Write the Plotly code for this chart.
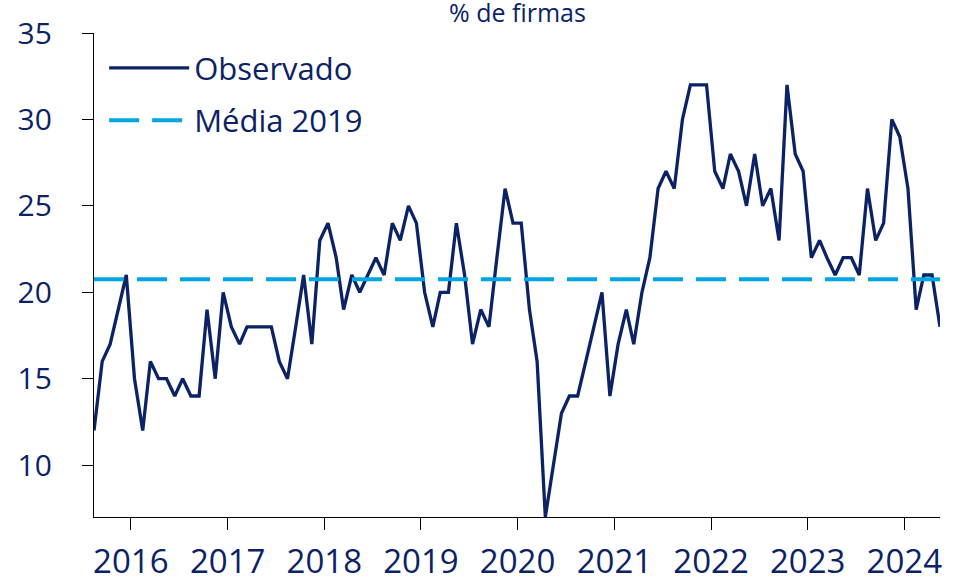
import pandas as pd
import plotly.graph_objects as go

# Monthly observations, Aug 2015 .. May 2024 (% de firmas)
start_month = "2015-08-01"
obs_2015 = [12, 16, 17, 19, 21]  # Aug-Dec
obs_2016 = [15, 12, 16, 15, 15, 14, 15, 14, 14, 19, 15, 20]
obs_2017 = [18, 17, 18, 18, 18, 18, 16, 15, 18, 21, 17, 23]
obs_2018 = [24, 22, 19, 21, 20, 21, 22, 21, 24, 23, 25, 24]
obs_2019 = [20, 18, 20, 20, 24, 21, 17, 19, 18, 22, 26, 24]
obs_2020 = [24, 19, 16, 7, 10, 13, 14, 14, 16, 18, 20, 14]
obs_2021 = [17, 19, 17, 20, 22, 26, 27, 26, 30, 32, 32, 32]
obs_2022 = [27, 26, 28, 27, 25, 28, 25, 26, 23, 32, 28, 27]
obs_2023 = [22, 23, 22, 21, 22, 22, 21, 26, 23, 24, 30, 29]
obs_2024 = [26, 19, 21, 21, 18]  # Jan-May
media_2019 = 20.75

tick_years = [2016, 2017, 2018, 2019, 2020, 2021, 2022, 2023, 2024]
y_ticks = [10, 15, 20, 25, 30, 35]

observado = (obs_2015 + obs_2016 + obs_2017 + obs_2018 + obs_2019 +
             obs_2020 + obs_2021 + obs_2022 + obs_2023 + obs_2024)
months = pd.date_range(start_month, periods=len(observado), freq="MS") + pd.Timedelta(days=14)
media = [media_2019] * len(observado)

NAVY = "#0B2265"
LIGHT = "#00A6E2"
FONT = "Open Sans"

fig = go.Figure()
fig.add_trace(go.Scatter(x=months, y=observado, mode="lines", name="Observado",
                         legendgroup="a",
                         line=dict(color=NAVY, width=3.3)))
fig.add_trace(go.Scatter(x=months, y=media, mode="lines", name="Média 2019",
                         legendgroup="b",
                         line=dict(color=LIGHT, width=4, dash="30px,13px")))

fig.update_layout(
    width=962, height=577,
    margin=dict(l=94, r=22, t=33, b=60, autoexpand=False),
    paper_bgcolor="white", plot_bgcolor="white",
    font=dict(family=FONT, color=NAVY, size=30),
    showlegend=True,
    legend=dict(x=0.012, y=0.983, xanchor="left", yanchor="top",
                xref="paper", yref="paper",
                bgcolor="rgba(0,0,0,0)",
                font=dict(size=31, color=NAVY, family=FONT),
                itemwidth=80, traceorder="grouped", tracegroupgap=9),
    annotations=[dict(text="% de firmas", x=0.5, y=1, xref="paper", yref="paper",
                      xanchor="center", yanchor="bottom", yshift=2,
                      showarrow=False, font=dict(size=25, color=NAVY, family=FONT))],
)
fig.update_xaxes(
    type="date",
    range=["2015-08-15", "2024-05-15"],
    tickvals=[f"{y}-01-01" for y in tick_years],
    ticktext=[str(y) for y in tick_years],
    showline=True, linecolor="black", linewidth=1.3,
    ticks="outside", ticklen=12, tickwidth=1.3, tickcolor="black",
    tickfont=dict(size=33, color=NAVY, family=FONT),
    showgrid=False, zeroline=False, ticklabelstandoff=3, automargin=False,
)
fig.update_yaxes(
    range=[7, 35],
    tickvals=y_ticks,
    showline=True, linecolor="black", linewidth=1.3,
    ticks="outside", ticklen=11, tickwidth=1.3, tickcolor="black",
    tickfont=dict(size=30, color=NAVY, family=FONT),
    showgrid=False, zeroline=False, ticklabelstandoff=24, automargin=False,
)

fig.write_html("out.html",
               config={"displayModeBar": False},
               post_script="document.body.style.margin='0px';document.body.style.overflow='hidden';")
